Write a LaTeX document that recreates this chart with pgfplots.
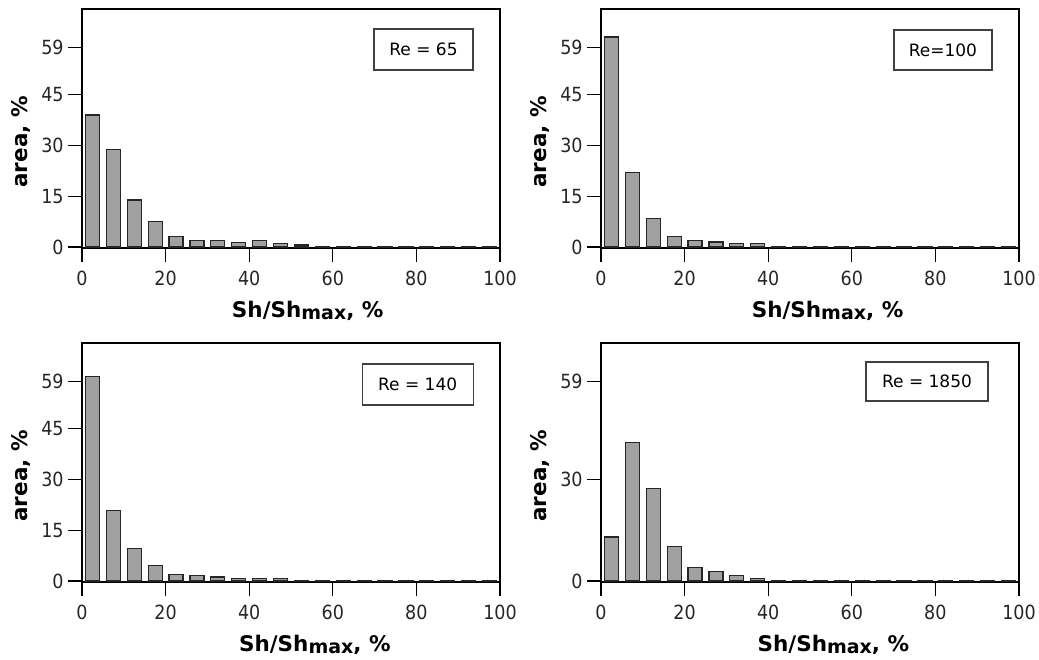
\documentclass[border=0pt]{standalone}
\usepackage{pgfplots}
\pgfplotsset{compat=1.18}
\usepackage{fontspec}
\setmainfont{DejaVu Sans}
\newfontfamily\tickfont{DejaVu Sans Condensed}

\pgfplotsset{
  panel/.style={
    scale only axis, width=418pt, height=239pt,
    xmin=0, xmax=100, ymin=-0.3, ymax=70.3,
    xtick={0,20,40,60,80,100},
    axis line style={line width=1.4pt, black},
    tick align=outside, xtick pos=bottom, ytick pos=left,
    major tick length=14pt,
    every tick/.style={line width=1.3pt, black},
    /pgf/number format/assume math mode=true,
    ticklabel style={font=\fontsize{19.5}{20}\tickfont, text=black!85, inner sep=0pt},
    xticklabel style={anchor=north, yshift=-8.7pt},
    yticklabel style={anchor=east, xshift=-4.2pt},
    xlabel={Sh/Sh\raisebox{-2pt}{\fontsize{19}{19}\selectfont\bfseries max}, \%},
    ylabel={area, \%},
    label style={font=\fontsize{21.5}{22}\selectfont\bfseries},
    ylabel style={at={(axis description cs:-0.146,0.444)}, anchor=center},
  },
  bars/.style={ybar, bar width=14pt, bar shift=0pt, fill=black!37, draw=black!85, line width=1.2pt},
}
\tikzset{rebox/.style={draw=black!75, line width=1.2pt, inner sep=0pt, font=\fontsize{17}{17}\selectfont}}

\begin{document}
\begin{tikzpicture}
\path[use as bounding box] (0,0) rectangle (1039pt,659pt);

% Re = 65
\begin{axis}[panel, at={(82pt,411pt)}, anchor=south west,
  ytick={0,15,30,45,59},
  xlabel style={at={(axis description cs:0.54,-0.292)}, anchor=base}]
\addplot[bars] coordinates {
(2.5,39.0) (7.5,28.9) (12.5,13.9) (17.5,7.5) (22.5,3.1) (27.5,2.0) (32.5,2.0) (37.5,1.4) (42.5,2.0) (47.5,1.0)
(52.5,0.6) (57.5,0.1) (62.5,0.1) (67.5,0.1) (72.5,0.1) (77.5,0.1) (82.5,0.1) (87.5,0.1) (92.5,0.1) (97.5,0.1)};
\node[rebox, minimum width=99pt, minimum height=41pt] at (axis description cs:0.817,0.8305) {Re = 65};
\end{axis}

% Re = 100
\begin{axis}[panel, at={(601pt,411pt)}, anchor=south west,
  ytick={0,15,30,45,59},
  xlabel style={at={(axis description cs:0.542,-0.292)}, anchor=base}]
\addplot[bars] coordinates {
(2.5,62.0) (7.5,22.0) (12.5,8.3) (17.5,3.1) (22.5,2.0) (27.5,1.5) (32.5,1.0) (37.5,1.0) (42.5,0.1) (47.5,0.1)
(52.5,0.1) (57.5,0.1) (62.5,0.1) (67.5,0.1) (72.5,0.1) (77.5,0.1) (82.5,0.1) (87.5,0.1) (92.5,0.1) (97.5,0.1)};
\node[rebox, minimum width=98pt, minimum height=40pt] at (axis description cs:0.818,0.828) {Re=100};
\end{axis}

% Re = 140
\begin{axis}[panel, at={(82pt,77pt)}, anchor=south west,
  ytick={0,15,30,45,59},
  xlabel style={at={(axis description cs:0.557,-0.292)}, anchor=base}]
\addplot[bars] coordinates {
(2.5,60.3) (7.5,20.9) (12.5,9.7) (17.5,4.5) (22.5,2.0) (27.5,1.6) (32.5,1.2) (37.5,0.7) (42.5,0.7) (47.5,0.7)
(52.5,0.1) (57.5,0.1) (62.5,0.1) (67.5,0.1) (72.5,0.1) (77.5,0.1) (82.5,0.1) (87.5,0.1) (92.5,0.1) (97.5,0.1)};
\node[rebox, minimum width=111pt, minimum height=41pt] at (axis description cs:0.803,0.826) {Re = 140};
\end{axis}

% Re = 1850
\begin{axis}[panel, at={(601pt,77pt)}, anchor=south west,
  ytick={0,30,59},
  xlabel style={at={(axis description cs:0.556,-0.292)}, anchor=base}]
\addplot[bars] coordinates {
(2.5,13.0) (7.5,41.0) (12.5,27.4) (17.5,10.1) (22.5,4.0) (27.5,2.7) (32.5,1.6) (37.5,0.7) (42.5,0.1) (47.5,0.1)
(52.5,0.1) (57.5,0.1) (62.5,0.1) (67.5,0.1) (72.5,0.1) (77.5,0.1) (82.5,0.1) (87.5,0.1) (92.5,0.1) (97.5,0.1)};
\node[rebox, minimum width=122pt, minimum height=39pt] at (axis description cs:0.780,0.839) {Re = 1850};
\end{axis}
\end{tikzpicture}
\end{document}
